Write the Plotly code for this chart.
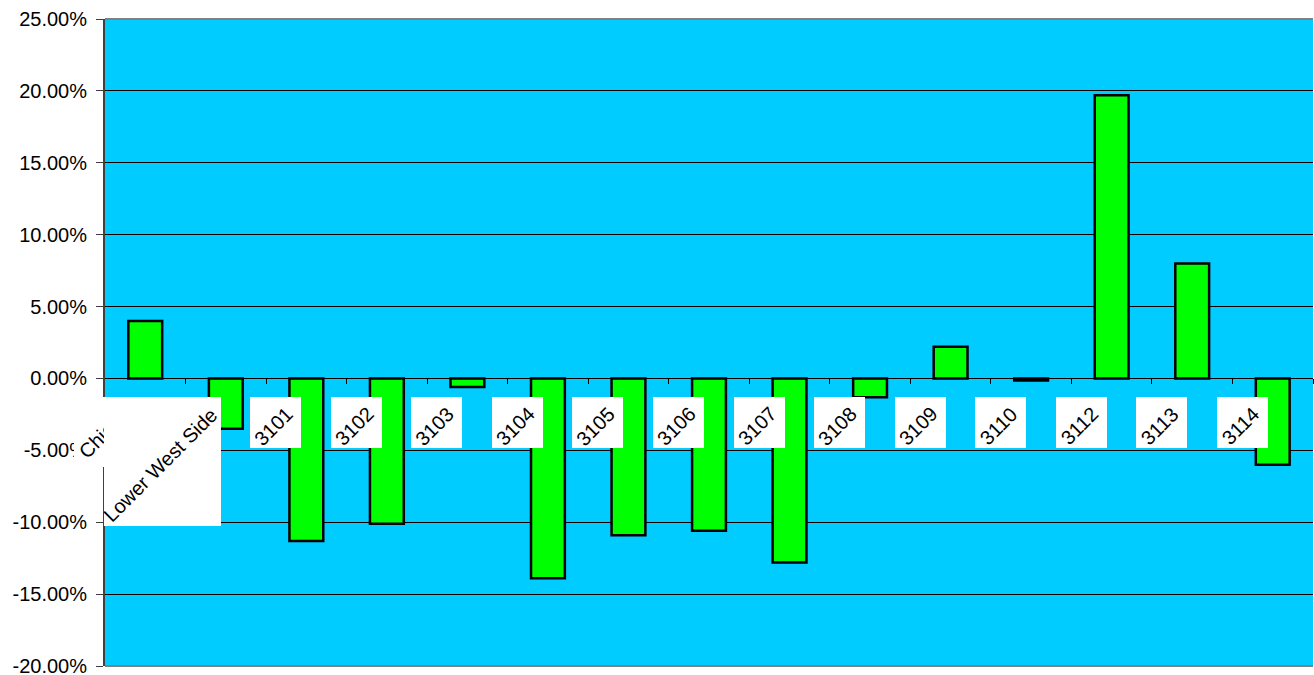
import plotly.graph_objects as go

categories = ["Chicago", "Lower West Side", "3101", "3102", "3103", "3104", "3105",
              "3106", "3107", "3108", "3109", "3110", "3112", "3113", "3114"]
values_pct = [4.0, -3.5, -11.3, -10.1, -0.6, -13.9, -10.9,
              -10.6, -12.8, -1.3, 2.2, -0.15, 19.7, 8.0, -6.0]
y_tickvals = [-20, -15, -10, -5, 0, 5, 10, 15, 20, 25]
y_ticktext = ["-20.00%", "-15.00%", "-10.00%", "-5.00%", "0.00%",
              "5.00%", "10.00%", "15.00%", "20.00%", "25.00%"]

# label box sizes (px) and text-centre offsets: style only
box_size = {"Chicago": (66, 70), "Lower West Side": (117, 129)}
default_box = (51, 51)
text_center_override = {"Chicago": (-37, -51)}

idx = list(range(len(categories)))

fig = go.Figure()
fig.add_trace(go.Bar(
    x=idx, y=values_pct, width=0.42,
    marker=dict(color="#00FF00", line=dict(color="black", width=2.5)),
    hoverinfo="skip",
))

annotations = []
for i, lab in enumerate(categories):
    w, h = box_size.get(lab, default_box)
    annotations.append(dict(
        x=i, xref="x", y=0, yref="y", xanchor="right", yanchor="top",
        xshift=-5, yshift=-19, text=" ", showarrow=False,
        width=w, height=h, bgcolor="white", borderpad=0, borderwidth=0,
    ))
    dx, dy = text_center_override.get(lab, (-5 - w / 2 - 2, -19 - h / 2 - 3))
    annotations.append(dict(
        x=i, xref="x", y=0, yref="y", xanchor="center", yanchor="middle",
        xshift=dx, yshift=dy, text=lab, showarrow=False,
        textangle=-45, font=dict(family="Liberation Sans, Arial", size=20, color="black"),
    ))

fig.update_layout(
    width=1314, height=675,
    margin=dict(l=105, r=1, t=19, b=9, autoexpand=False),
    paper_bgcolor="white", plot_bgcolor="#00CCFF",
    showlegend=False,
    font=dict(family="Liberation Sans, Arial", size=20, color="black"),
    annotations=annotations,
    shapes=[
        dict(type="line", xref="paper", yref="paper", x0=0, x1=1, y0=1, y1=1,
             line=dict(color="#808080", width=2)),
        dict(type="line", xref="paper", yref="paper", x0=0, x1=1, y0=0, y1=0,
             line=dict(color="#808080", width=2)),
    ],
)
fig.update_xaxes(
    range=[-0.5, len(categories) - 0.5],
    anchor="free", position=20 / 45, automargin=False,
    showline=True, linecolor="black", linewidth=1,
    tickvals=[i + 0.5 for i in idx], ticks="outside", ticklen=5, tickcolor="black",
    showticklabels=False, showgrid=False, zeroline=False,
)
fig.update_yaxes(
    range=[-20, 25], tickvals=y_tickvals, ticktext=y_ticktext,
    automargin=False,
    showline=True, linecolor="#404040", linewidth=2,
    ticks="outside", ticklen=7, tickcolor="#404040",
    ticklabelstandoff=5, ticklabeloverflow="allow",
    showgrid=True, gridcolor="black", gridwidth=1, zeroline=False,
    tickfont=dict(size=20),
)

fig.write_html("out.html")
